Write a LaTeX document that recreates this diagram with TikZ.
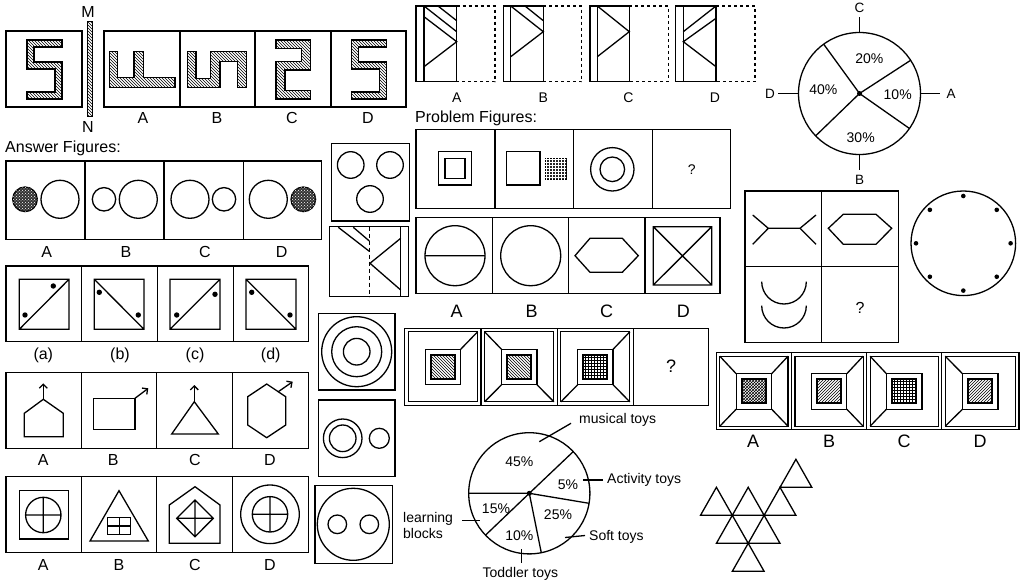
\documentclass[tikz,border=0pt]{standalone}
\usepackage{fontspec}
\setmainfont{Liberation Sans}
\usetikzlibrary{patterns,arrows.meta}
\newcommand\nbox[5]{%
\begin{scope}[shift={(#1,#2)}]
 \pgfmathsetmacro\wa{#3-3.5}%
 \pgfmathsetmacro\ml{(#3-35.5)/2}%
 \pgfmathsetmacro\mr{(#3+35.5)/2}%
 \pgfmathsetmacro\fl{(#3-24)/2}%
 \pgfmathsetmacro\fr{(#3+24)/2}%
 \draw[box] (0,0) rectangle (#3,77);
 \draw[line width=1.1pt] (3.5,3.5) rectangle (\wa,73.5);
 \draw[shp] (\ml,21) rectangle (\mr,56.5);
 \draw[line width=1.8pt,#4] (\fl,26.5) rectangle (\fr,50.5);
 \foreach \c in {#5}{%
   \ifcase\c\or \draw[shp] (\ml,21)--(3.5,3.5);
   \or \draw[shp] (\mr,21)--(\wa,3.5);
   \or \draw[shp] (\ml,56.5)--(3.5,73.5);
   \or \draw[shp] (\mr,56.5)--(\wa,73.5);
   \fi}
\end{scope}}
\begin{document}
\begin{tikzpicture}[x=1pt,y=-1pt,
  box/.style={draw=black,line width=1.5pt},
  shp/.style={draw=black,line width=1.3pt},
  hatch/.style={draw=black,line width=1.2pt,pattern=north west lines},
  dots/.style={fill=black!80,postaction={pattern=crosshatch dots,pattern color=white}},
  lbl/.style={inner sep=0pt,font=\fontsize{16}{18}\selectfont},
  slbl/.style={inner sep=0pt,font=\fontsize{14}{16}\selectfont},
  tlbl/.style={inner sep=0pt,font=\fontsize{13.5}{16}\selectfont},
  blbl/.style={inner sep=0pt,font=\fontsize{18}{20}\selectfont},
  dotted box/.style={draw=black,line width=1.5pt,dash pattern=on 3pt off 3pt},
  arr/.style={line width=1.3pt,-{Straight Barb[length=4pt,width=8pt]}}
]
\useasboundingbox (0,0) rectangle (1024,588);
\fill[white] (0,0) rectangle (1024,588);

% ---------- S figures ----------
\draw[box] (6,31) rectangle (82,107);
\draw[hatch] (27,40)--(62,40)--(62,47)--(34,47)--(34,62)--(62,62)--(62,99)--(27,99)--(27,92)--(55,92)--(55,69)--(27,69)--cycle;
\draw[line width=0.8pt,pattern=north west lines] (87.3,21.7) rectangle (92.7,116.7);
\node[lbl] (M) at (88,12) {M};
\node[lbl] (N) at (88,127) {N};
\draw[box] (104,31) rectangle (406,107);
\draw[box] (180,31)--(180,107) (255,31)--(255,107) (331,31)--(331,107);
\draw[hatch] (109.3,51.7)--(117.3,51.7)--(117.3,77.3)--(134,77.3)--(134,51.7)--(143.3,51.7)--(143.3,77.3)--(175,77.3)--(175,87.3)--(109.3,87.3)--cycle;
\draw[hatch] (187.3,51.7)--(196,51.7)--(196,78.3)--(210.7,78.3)--(210.7,51.7)--(246.7,51.7)--(246.7,87.3)--(237.3,87.3)--(237.3,61.7)--(220,61.7)--(220,87.3)--(187.3,87.3)--cycle;
\draw[hatch] (276,40)--(310.7,40)--(310.7,70)--(285,70)--(285,90.7)--(310.7,90.7)--(310.7,99)--(276,99)--(276,61.7)--(301.7,61.7)--(301.7,48.3)--(276,48.3)--cycle;
\draw[hatch] (351.7,40)--(386.7,40)--(386.7,47)--(358.7,47)--(358.7,62)--(386.7,62)--(386.7,99)--(351.7,99)--(351.7,92)--(379.7,92)--(379.7,69)--(351.7,69)--cycle;
\node[lbl] (sA) at (143,118) {A};
\node[lbl] (sB) at (217,118) {B};
\node[lbl] (sC) at (292,118) {C};
\node[lbl] (sD) at (368,118) {D};

% ---------- triangle-in-strip figures ----------
\draw[dotted box] (456.7,6)--(495,6)--(495,81.7)--(456.7,81.7);
\draw[box] (416,6) rectangle (456.7,81.7) (424,6)--(424,81.7);
\draw[shp] (438,6)--(456.7,20.7) (424,6)--(456.7,31.7) (424,16.7)--(456.7,41.7)--(424,66.7);
\draw[dotted box] (543.3,6)--(581.7,6)--(581.7,81.7)--(543.3,81.7);
\draw[box] (503.3,6) rectangle (543.3,81.7) (510.7,6)--(510.7,81.7);
\draw[shp] (525,6)--(543.3,20.7) (510.7,6)--(543.3,31.7)--(510.7,56.7);
\draw[dotted box] (629.3,6)--(668.3,6)--(668.3,81.7)--(629.3,81.7);
\draw[box] (590,6) rectangle (629.3,81.7) (597.3,6)--(597.3,81.7);
\draw[shp] (597.3,6)--(629.3,31.7)--(597.3,56.7);
\draw[dotted box] (716,6)--(755,6)--(755,81.7)--(716,81.7);
\draw[box] (675.7,6) rectangle (716,81.7) (683.3,6)--(683.3,81.7);
\draw[shp] (716,6)--(683.3,31.7) (716,18.3)--(683.3,41.7)--(716,66.7);
\node[slbl] (tA) at (456.7,98) {A};
\node[slbl] (tB) at (543.3,98) {B};
\node[slbl] (tC) at (628.3,98) {C};
\node[slbl] (tD) at (715,98) {D};

% ---------- pie top right ----------
\coordinate (pc) at (859.5,93.5);
\draw[shp] (pc) circle[radius=61pt];
\draw[shp] (pc)--++(126:61pt) (pc)--++(33:61pt) (pc)--++(-35:61pt) (pc)--++(224:61pt);
\fill (pc) circle[radius=2.5pt];
\draw[shp] (859.5,32.5)--(859.5,16.7) (920.5,93.5)--(940,93.5) (798.5,93.5)--(778,93.5) (859.5,154.5)--(859.5,170);
\node[tlbl] (pC) at (859.5,8) {C};
\node[tlbl] (pA) at (951,94) {A};
\node[tlbl] (pD) at (770,94) {D};
\node[tlbl] (pB) at (859.5,180) {B};
\node[slbl] (p20) at (869.3,58.3) {20\%};
\node[slbl] (p10) at (897.7,95) {10\%};
\node[slbl] (p30) at (860.7,137.3) {30\%};
\node[slbl] (p40) at (823.3,89.3) {40\%};

% ---------- Answer figures (circles) ----------
\node[lbl,anchor=west] (ansT) at (5,148) {Answer Figures:};
\draw[box] (6,161) rectangle (321.7,239.3);
\draw[box] (85,161)--(85,239.3) (164,161)--(164,239.3) (243.3,161)--(243.3,239.3);
\draw[shp,dots] (25,199.3) circle[radius=12.3pt];
\draw[shp] (60,199.3) circle[radius=19pt];
\draw[shp] (104,199.3) circle[radius=11.7pt] (138.3,199.3) circle[radius=19pt];
\draw[shp] (190,199.3) circle[radius=19pt] (224,199.3) circle[radius=11.7pt];
\draw[shp] (268.3,199.3) circle[radius=19pt];
\draw[shp,dots] (303.3,199.3) circle[radius=12.3pt];
\node[lbl] (aA) at (46.7,251.7) {A};
\node[lbl] (aB) at (126,251.7) {B};
\node[lbl] (aC) at (205,251.7) {C};
\node[lbl] (aD) at (281.7,251.7) {D};

% ---------- diagonal squares ----------
\draw[box] (6,266) rectangle (308.3,341.7);
\draw[box] (81.7,266)--(81.7,341.7) (157.3,266)--(157.3,341.7) (233.3,266)--(233.3,341.7);
\draw[shp] (19.3,279.3) rectangle (69,329.3) (19.3,329.3)--(69,279.3);
\fill (25,315) circle[radius=2.7pt] (53.3,286) circle[radius=2.7pt];
\draw[shp] (94.3,279.3) rectangle (144,329.3) (94.3,279.3)--(144,329.3);
\fill (99.3,292.3) circle[radius=2.7pt] (138.3,315) circle[radius=2.7pt];
\draw[shp] (170,279.3) rectangle (220,329.3) (170,329.3)--(220,279.3);
\fill (176.7,315) circle[radius=2.7pt] (215,294.3) circle[radius=2.7pt];
\draw[shp] (246,279.3) rectangle (296,329.3) (246,279.3)--(296,329.3);
\fill (251.7,292.3) circle[radius=2.7pt] (290,315) circle[radius=2.7pt];
\node[lbl] (da) at (43.3,355) {(a)};
\node[lbl] (db) at (120,355) {(b)};
\node[lbl] (dc) at (195,355) {(c)};
\node[lbl] (dd) at (270.7,355) {(d)};

% ---------- shapes with arrows ----------
\draw[box] (6,372.7) rectangle (308.3,448.3);
\draw[box] (81.7,372.7)--(81.7,448.3) (156.7,372.7)--(156.7,448.3) (232.3,372.7)--(232.3,448.3);
\draw[shp] (24.3,436.7)--(63.3,436.7)--(63.3,413.3)--(43.3,399.3)--(24.3,413.3)--cycle;
\draw[arr] (43.3,399.3)--(43.3,383.3);
\draw[shp] (93.3,398.3) rectangle (135,429.3);
\draw[arr] (135,398.3)--(148.3,388.3);
\draw[shp] (171.7,434)--(218.3,434)--(194.3,401.7)--cycle;
\draw[arr] (194.3,401.7)--(194.3,385);
\draw[shp] (266.7,384)--(285.7,396.7)--(285.7,425)--(266.7,437.7)--(247.7,425)--(247.7,396.7)--cycle;
\draw[arr] (278.3,391.7)--(292.7,381.7);
\node[lbl] (rA) at (43.3,460) {A};
\node[lbl] (rB) at (113.3,460) {B};
\node[lbl] (rC) at (195,460) {C};
\node[lbl] (rD) at (270,460) {D};

% ---------- bottom-left row ----------
\draw[box] (6,476.7) rectangle (308.3,552.3);
\draw[box] (81.7,476.7)--(81.7,552.3) (156.7,476.7)--(156.7,552.3) (232.3,476.7)--(232.3,552.3);
\draw[shp] (19.3,490.7) rectangle (68.3,539);
\draw[shp] (43.3,515) circle[radius=17.7pt] (43.3,497.3)--(43.3,532.7) (25.6,515)--(61,515);
\draw[shp] (119,490.7)--(148.3,541)--(90,541)--cycle;
\draw[shp] (107.7,517.7) rectangle (130.7,534.3) (119.2,517.7)--(119.2,534.3) (107.7,526)--(130.7,526);
\draw[shp] (195,486.7)--(220,505)--(220,543.3)--(169.3,543.3)--(169.3,505)--cycle;
\draw[shp] (195,500)--(213.3,518.3)--(195,536.7)--(176.7,518.3)--cycle (195,500)--(195,536.7) (176.7,518.3)--(213.3,518.3);
\draw[shp] (270,514.3) circle[radius=29.3pt] (270,514.3) circle[radius=17.7pt] (270,496.6)--(270,532) (252.3,514.3)--(287.7,514.3);
\node[lbl] (bA) at (43.3,565) {A};
\node[lbl] (bB) at (119,565) {B};
\node[lbl] (bC) at (195,565) {C};
\node[lbl] (bD) at (270,565) {D};

% ---------- middle column ----------
\draw[box] (331.7,143.3) rectangle (409.3,221);
\draw[shp] (350.7,165) circle[radius=13.3pt] (390,165) circle[radius=13.3pt] (370,199) circle[radius=13.3pt];
\draw[box] (329.3,226.7) rectangle (408.3,296.7) (400.7,226.7)--(400.7,296.7);
\draw[shp,dash pattern=on 4pt off 3pt] (369.3,226.7)--(369.3,296.7);
\draw[shp] (338.3,227.3)--(369.3,251.3) (353.3,227.3)--(369.3,241) (400.7,238.3)--(370,263.3)--(400.7,290);
\draw[box] (318.3,313.3) rectangle (395,390);
\draw[shp] (356.7,351.7) circle[radius=35pt] (356.7,351.7) circle[radius=25pt] (356.7,351.7) circle[radius=13.3pt];
\draw[box] (318.3,400) rectangle (395,476.7);
\draw[shp] (342.7,438.3) circle[radius=19.3pt] (342.7,438.3) circle[radius=13.3pt] (379.3,438.3) circle[radius=10pt];
\draw[box] (315,485.7) rectangle (392.7,563.3);
\draw[shp] (353.3,524.3) circle[radius=36pt] (337.3,524.3) circle[radius=9.3pt] (369.3,524.3) circle[radius=9.3pt];

% ---------- Problem figures ----------
\node[lbl,anchor=west] (probT) at (415,118) {Problem Figures:};
\draw[box] (416,129.3) rectangle (730.7,208.3);
\draw[box] (495,129.3)--(495,208.3) (573.3,129.3)--(573.3,208.3) (652.3,129.3)--(652.3,208.3);
\draw[shp] (438.3,151.7) rectangle (471.7,185) (445,158.3) rectangle (465,178.3);
\draw[shp] (506.7,151.7) rectangle (540,185);
\draw[line width=1pt,fill=black!85,postaction={pattern=grid,pattern color=white}] (545,158.3) rectangle (566,179.3);
\draw[shp] (612.3,169.3) circle[radius=21.7pt] (612.3,169.3) circle[radius=12.3pt];
\node[slbl] (q1) at (691.7,169.3) {?};
\draw[box] (416,217.3) rectangle (720,293.3);
\draw[box] (492.7,217.3)--(492.7,293.3) (568.3,217.3)--(568.3,293.3) (645,217.3)--(645,293.3);
\draw[shp] (455,255.7) circle[radius=30pt] (425,255.7)--(485,255.7);
\draw[shp] (530.7,255.7) circle[radius=30pt];
\draw[shp] (575,255.7)--(590,238.3)--(622.3,238.3)--(638.3,255.7)--(622.3,272.3)--(590,272.3)--cycle;
\draw[shp] (653.3,226.7) rectangle (711.7,285) (653.3,226.7)--(711.7,285) (653.3,285)--(711.7,226.7);
\node[blbl] (qA) at (456.7,311.7) {A};
\node[blbl] (qB) at (531.7,311.7) {B};
\node[blbl] (qC) at (606.7,311.7) {C};
\node[blbl] (qD) at (683.3,311.7) {D};

% ---------- 2x2 grid and clock circle ----------
\draw[box] (745,191) rectangle (898.3,342.3) (821.7,191)--(821.7,342.3) (745,266.7)--(898.3,266.7);
\draw[shp] (768.3,228.3)--(800,228.3) (752.7,215)--(768.3,228.3)--(752.7,244.3) (816,215)--(800,228.3)--(816,244.3);
\draw[shp] (828.3,228.3)--(843.3,214.3)--(876,214.3)--(891.7,228.3)--(876,244.3)--(843.3,244.3)--cycle;
\draw[shp] (761.7,281.7) arc[start angle=180,end angle=360,radius=22.3pt];
\draw[shp] (761.7,305.7) arc[start angle=180,end angle=360,radius=22.3pt];
\node[lbl] (g4) at (860,308.3) {?};
\draw[shp] (963.3,243.3) circle[radius=52.3pt];
\foreach \a in {0,45,...,315} \fill (963.3,243.3) ++(\a:47.3pt) circle[radius=2.3pt];

% ---------- nested squares ----------
\nbox{404.7}{328.3}{76.4}{pattern=north west lines}{2}
\nbox{481.1}{328.3}{76.3}{pattern=north west lines}{1,3,4}
\nbox{557.4}{328.3}{75.9}{pattern=grid}{2,3,4}
\draw[box] (633.3,328.3) rectangle (708.4,405.3);
\node[blbl] (q2) at (671,366.7) {?};
\nbox{716.3}{352.7}{75.2}{pattern=crosshatch}{1,2,3,4}
\nbox{791.5}{352.7}{75.1}{pattern=north east lines}{2,4}
\nbox{866.6}{352.7}{75.1}{pattern=grid}{1,3}
\nbox{941.7}{352.7}{77.1}{pattern=north east lines}{1,3}
\node[blbl] (nA) at (753,441) {A};
\node[blbl] (nB) at (829,441) {B};
\node[blbl] (nC) at (904,441) {C};
\node[blbl] (nD) at (980,441) {D};

% ---------- toys pie ----------
\coordinate (tc) at (529.3,493.3);
\draw[shp] (tc) circle[radius=60.6pt];
\draw[shp] (tc)--++(180:60.6pt) (tc)--++(43.5:60.6pt) (tc)--++(-9.5:60.6pt) (tc)--++(-78.6:60.6pt) (tc)--++(223.7:60.6pt);
\fill (tc) circle[radius=2.5pt];
\node[slbl] (t45) at (519.4,461.7) {45\%};
\node[slbl] (t5) at (568,485) {5\%};
\node[slbl] (t15) at (496,508.3) {15\%};
\node[slbl] (t25) at (558,515) {25\%};
\node[slbl] (t10) at (519.4,536) {10\%};
\node[slbl,anchor=west] (lmus) at (579,420) {musical toys};
\draw[shp] (539.3,441.7)--(571,423.3);
\node[slbl,anchor=west] (lact) at (607,480) {Activity toys};
\draw[shp] (583,480)--(603,480);
\node[slbl,anchor=west] (lsoft) at (589,536.7) {Soft toys};
\draw[shp] (565,537.5)--(585,535.5);
\node[slbl] (ltod) at (520.4,574) {Toddler toys};
\draw[shp] (521.4,549)--(521.4,563);
\node[slbl,anchor=west,align=left] (llrn) at (403,525) {learning\\blocks};
\draw[shp] (462,520.7)--(480,520.7);

% ---------- triangles ----------
\foreach \x/\y in {795.9/459.3, 716.4/487.3, 748.2/487.3, 780/487.3, 732.3/515.3, 764.1/515.3, 748.2/543.3}
  \draw[shp] (\x,\y)--++(15.9,28)--++(-31.8,0)--cycle;
\end{tikzpicture}
\end{document}
